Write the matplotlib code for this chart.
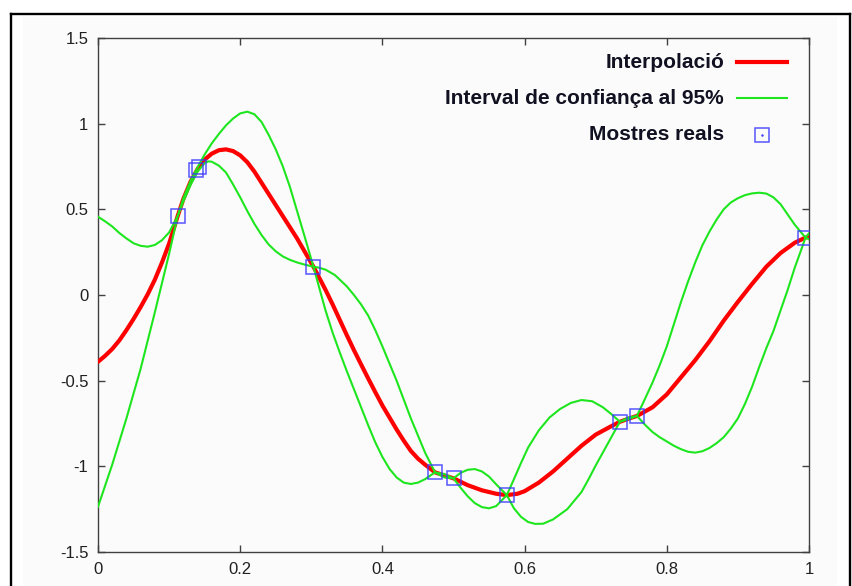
import matplotlib
matplotlib.use("Agg")
import matplotlib.pyplot as plt
from matplotlib.lines import Line2D
from matplotlib.patches import Rectangle
from matplotlib.ticker import FormatStrFormatter, MultipleLocator

plt.rcParams["font.family"] = ["Liberation Sans", "DejaVu Sans"]
plt.rcParams["axes.unicode_minus"] = False

# ── data ────────────────────────────────────────────────────────────────────
mean_x = [0.000, 0.010, 0.020, 0.030, 0.040, 0.050, 0.060, 0.070, 0.080, 0.090,
          0.100, 0.112, 0.120, 0.130, 0.140, 0.150, 0.160, 0.170, 0.180, 0.190,
          0.200, 0.210, 0.220, 0.240, 0.260, 0.280, 0.303, 0.310, 0.320, 0.330,
          0.340, 0.350, 0.360, 0.370, 0.380, 0.390, 0.400, 0.410, 0.420, 0.430,
          0.440, 0.450, 0.460, 0.474, 0.487, 0.500, 0.520, 0.540, 0.560, 0.575,
          0.590, 0.600, 0.620, 0.640, 0.660, 0.680, 0.700, 0.720, 0.734, 0.746,
          0.758, 0.780, 0.800, 0.820, 0.840, 0.860, 0.880, 0.900, 0.920, 0.940,
          0.960, 0.980, 0.995, 1.000]
mean_y = [-0.39, -0.355, -0.315, -0.265, -0.205, -0.14, -0.07, 0.005, 0.09, 0.19,
          0.30, 0.46, 0.56, 0.66, 0.735, 0.79, 0.825, 0.845, 0.85, 0.84,
          0.815, 0.775, 0.72, 0.59, 0.46, 0.33, 0.165, 0.11, 0.03, -0.055,
          -0.145, -0.235, -0.322, -0.405, -0.487, -0.567, -0.645, -0.715, -0.785, -0.85,
          -0.91, -0.955, -0.99, -1.035, -1.053, -1.07, -1.11, -1.14, -1.16, -1.168,
          -1.16, -1.145, -1.095, -1.03, -0.955, -0.88, -0.815, -0.77, -0.74, -0.722,
          -0.706, -0.655, -0.58, -0.48, -0.38, -0.27, -0.15, -0.04, 0.065, 0.165,
          0.245, 0.305, 0.335, 0.342]

upper_x = [0.000, 0.010, 0.020, 0.030, 0.040, 0.050, 0.060, 0.070, 0.080, 0.090,
           0.100, 0.112, 0.120, 0.130, 0.140, 0.150, 0.160, 0.170, 0.180, 0.190,
           0.200, 0.210, 0.220, 0.230, 0.240, 0.250, 0.260, 0.270, 0.280, 0.290,
           0.303, 0.310, 0.320, 0.333, 0.340, 0.350, 0.360, 0.370, 0.380, 0.390,
           0.400, 0.420, 0.440, 0.460, 0.474, 0.487, 0.500, 0.510, 0.520, 0.530,
           0.540, 0.550, 0.560, 0.575, 0.585, 0.595, 0.605, 0.620, 0.635, 0.650,
           0.665, 0.680, 0.695, 0.710, 0.722, 0.734, 0.746, 0.758, 0.770, 0.780,
           0.790, 0.800, 0.810, 0.820, 0.830, 0.840, 0.850, 0.860, 0.870, 0.880,
           0.890, 0.900, 0.910, 0.920, 0.930, 0.940, 0.950, 0.960, 0.970, 0.980,
           0.990, 0.995, 1.000]
upper_y = [0.457, 0.43, 0.40, 0.362, 0.33, 0.302, 0.287, 0.282, 0.292, 0.32,
           0.365, 0.46, 0.565, 0.665, 0.745, 0.82, 0.885, 0.94, 0.99, 1.03,
           1.06, 1.07, 1.055, 1.01, 0.935, 0.85, 0.75, 0.63, 0.49, 0.35,
           0.165, 0.16, 0.148, 0.117, 0.09, 0.05, 0.00, -0.055, -0.12, -0.205,
           -0.30, -0.50, -0.72, -0.92, -1.035, -1.045, -1.07, -1.038, -1.02, -1.016,
           -1.03, -1.06, -1.105, -1.168, -1.075, -0.98, -0.89, -0.79, -0.715, -0.665,
           -0.63, -0.613, -0.62, -0.655, -0.695, -0.74, -0.715, -0.706, -0.60, -0.51,
           -0.41, -0.30, -0.17, -0.04, 0.08, 0.19, 0.29, 0.37, 0.44, 0.50,
           0.54, 0.565, 0.583, 0.593, 0.597, 0.592, 0.57, 0.53, 0.47, 0.41,
           0.36, 0.335, 0.325]

lower_x = [0.000, 0.020, 0.040, 0.060, 0.080, 0.100, 0.112, 0.120, 0.130, 0.140,
           0.150, 0.155, 0.160, 0.170, 0.180, 0.190, 0.200, 0.210, 0.220, 0.230,
           0.240, 0.250, 0.260, 0.270, 0.280, 0.290, 0.303, 0.310, 0.320, 0.330,
           0.340, 0.350, 0.360, 0.370, 0.380, 0.390, 0.400, 0.410, 0.420, 0.430,
           0.440, 0.450, 0.460, 0.474, 0.487, 0.500, 0.510, 0.520, 0.530, 0.540,
           0.550, 0.560, 0.575, 0.585, 0.595, 0.605, 0.615, 0.626, 0.640, 0.650,
           0.660, 0.670, 0.680, 0.690, 0.700, 0.710, 0.720, 0.734, 0.746, 0.758,
           0.770, 0.780, 0.790, 0.800, 0.810, 0.820, 0.830, 0.840, 0.850, 0.860,
           0.870, 0.880, 0.890, 0.900, 0.910, 0.920, 0.930, 0.940, 0.950, 0.960,
           0.970, 0.980, 0.990, 0.995, 1.000]
lower_y = [-1.236, -0.99, -0.72, -0.43, -0.10, 0.24, 0.46, 0.545, 0.64, 0.72,
           0.77, 0.78, 0.778, 0.755, 0.715, 0.645, 0.57, 0.49, 0.415, 0.35,
           0.295, 0.255, 0.225, 0.205, 0.19, 0.178, 0.165, 0.06, -0.09, -0.22,
           -0.335, -0.445, -0.55, -0.655, -0.76, -0.86, -0.945, -1.015, -1.065, -1.095,
           -1.103, -1.095, -1.075, -1.035, -1.065, -1.07, -1.125, -1.175, -1.215, -1.238,
           -1.245, -1.232, -1.168, -1.245, -1.295, -1.325, -1.336, -1.335, -1.31, -1.28,
           -1.25, -1.20, -1.15, -1.075, -0.995, -0.92, -0.845, -0.74, -0.725, -0.706,
           -0.76, -0.80, -0.83, -0.855, -0.88, -0.90, -0.915, -0.92, -0.912, -0.893,
           -0.865, -0.83, -0.78, -0.72, -0.635, -0.535, -0.42, -0.31, -0.21, -0.09,
           0.03, 0.16, 0.275, 0.335, 0.36]

sample_x = [0.112, 0.138, 0.1415, 0.303, 0.474, 0.500, 0.575, 0.734, 0.758, 0.995]
sample_y = [0.46, 0.73, 0.745, 0.165, -1.035, -1.07, -1.168, -0.74, -0.706, 0.335]

labels = ["Interpolació", "Interval de confiança al 95%", "Mostres reals"]

RED = "#ff0000"
GREEN = "#1ee61e"
BLUE = "#3a3aff"
AXIS = "#404040"

# ── figure + gnuplot-ish frame ──────────────────────────────────────────────
W, H = 852, 586
fig = plt.figure(figsize=(W / 100, H / 100), dpi=100, facecolor="white")
fig.add_artist(Rectangle((23 / W, 0), (837 - 23) / W, 1 - 17 / H,
                         transform=fig.transFigure, facecolor="#fbfbfb",
                         edgecolor="none", zorder=0))
frame = dict(transform=fig.transFigure, color="black", lw=1.7, zorder=1)
fig.add_artist(Line2D([10.5 / W, 10.5 / W], [0, 1 - 14.3 / H], **frame))
fig.add_artist(Line2D([10.5 / W, 849.5 / W], [1 - 14.3 / H, 1 - 14.3 / H], **frame))
fig.add_artist(Line2D([849.5 / W, 849.5 / W], [0, 1 - 14.3 / H], **frame))

ax = fig.add_axes([98 / W, 1 - 552 / H, 711 / W, 514 / H])
ax.set_facecolor("none")

ax.plot(mean_x, mean_y, color=RED, lw=3.0, zorder=3,
        solid_capstyle="round", solid_joinstyle="round")
ax.plot(upper_x, upper_y, color=GREEN, lw=1.5, zorder=4, solid_joinstyle="round")
ax.plot(lower_x, lower_y, color=GREEN, lw=1.5, zorder=4, solid_joinstyle="round")
ax.plot(sample_x, sample_y, ls="none", marker="s", ms=10.5, mfc="none",
        mec=BLUE, mew=1.1, alpha=0.85, zorder=5)

ax.set_xlim(0, 1)
ax.set_ylim(-1.5, 1.5)
ax.xaxis.set_major_locator(MultipleLocator(0.2))
ax.yaxis.set_major_locator(MultipleLocator(0.5))
ax.xaxis.set_major_formatter(FormatStrFormatter("%g"))
ax.yaxis.set_major_formatter(FormatStrFormatter("%g"))
ax.tick_params(direction="in", top=True, right=True, length=5, width=1,
               color=AXIS, labelsize=12, labelcolor="#202020", pad=7)
for s in ax.spines.values():
    s.set_color(AXIS)
    s.set_linewidth(1.0)

# ── gnuplot style key (right-justified text, sample to the right) ──────────
rows_y = [0.953, 0.883, 0.812]
for yy, lab in zip(rows_y, labels):
    ax.text(0.8805, yy, lab, transform=ax.transAxes, ha="right", va="center",
            fontsize=15, fontweight="bold", color="#111122")
ax.plot([0.899, 0.969], [rows_y[0]] * 2, transform=ax.transAxes, color=RED, lw=3.0)
ax.plot([0.899, 0.969], [rows_y[1]] * 2, transform=ax.transAxes, color=GREEN, lw=1.5)
ax.plot([0.9335], [rows_y[2]], transform=ax.transAxes, marker="s", ms=10.5,
        mfc="none", mec=BLUE, mew=1.1, alpha=0.85)
ax.plot([0.9335], [rows_y[2]], transform=ax.transAxes, marker=".", ms=1.5,
        color=BLUE)

fig.savefig("out.png", dpi=100, facecolor="white")
